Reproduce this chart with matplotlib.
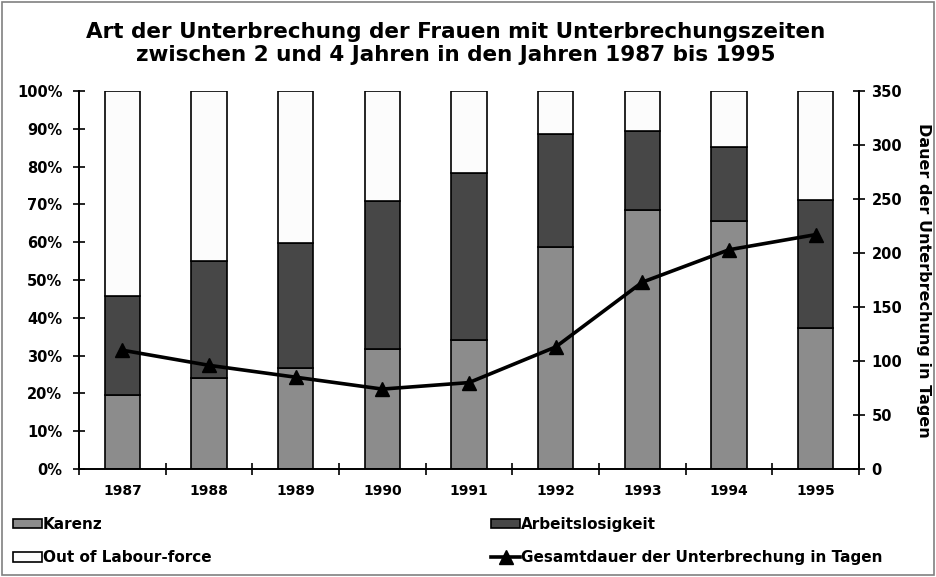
import numpy as np
import matplotlib.pyplot as plt
from matplotlib.patches import Rectangle
from matplotlib.lines import Line2D

plt.rcParams["font.family"] = ["DejaVu Sans"]
plt.rcParams["font.weight"] = "bold"

years = ["1987", "1988", "1989", "1990", "1991", "1992", "1993", "1994", "1995"]
karenz = [19.5, 24.2, 26.8, 31.7, 34.1, 58.8, 68.5, 65.7, 37.4]
arbeitslos_top = [45.8, 54.9, 59.9, 71.0, 78.4, 88.5, 89.4, 85.2, 71.1]
dauer = [110, 96, 85, 74, 80, 113, 173, 203, 217]

arbeitslos = [a - k for a, k in zip(arbeitslos_top, karenz)]
out_lf = [100 - a for a in arbeitslos_top]

fig = plt.figure(figsize=(9.36, 5.77), dpi=100)
ax = fig.add_axes([79 / 936, 1 - 469 / 577, 780 / 936, 378 / 577])
ax2 = ax.twinx()

x = np.arange(len(years))
w = 0.41
b1 = ax.bar(x, karenz, w, color="#8c8c8c", edgecolor="black", linewidth=1.2)
b2 = ax.bar(x, arbeitslos, w, bottom=karenz, color="#474747", edgecolor="black", linewidth=1.2)
b3 = ax.bar(x, out_lf, w, bottom=arbeitslos_top, color="#fcfcfc", edgecolor="black", linewidth=1.2)

ln, = ax2.plot(x, dauer, color="black", linewidth=2.6, marker="^", markersize=10)

ax.set_xlim(-0.5, len(years) - 0.5)
ax.set_ylim(0, 100)
ax2.set_ylim(0, 350)

ax.set_yticks(np.arange(0, 101, 10))
ax.set_yticklabels([f"{v}%" for v in range(0, 101, 10)])
ax2.set_yticks(np.arange(0, 351, 50))

ax.set_xticks(x)
ax.set_xticklabels(years)
ax.set_xticks(np.arange(-0.5, len(years), 1.0), minor=True)
ax.tick_params(axis="x", which="major", length=0, pad=11, labelsize=10)
ax.tick_params(axis="x", which="minor", direction="inout", length=8, width=1.2)
ax.tick_params(axis="y", direction="inout", length=8, width=1.2, labelsize=10.5, pad=8)
ax2.tick_params(axis="y", direction="inout", length=8, width=1.2, labelsize=10.5, pad=5)

for a in (ax, ax2):
    a.spines["top"].set_visible(False)
    for s in ("left", "right", "bottom"):
        a.spines[s].set_linewidth(1.2)

ax2.set_ylabel("Dauer der Unterbrechung in Tagen", rotation=270, labelpad=21,
               fontsize=11.5, fontweight="bold")

fig.text(0.487, 1 - 43.5 / 577, "Art der Unterbrechung der Frauen mit Unterbrechungszeiten\n"
         "zwischen 2 und 4 Jahren in den Jahren 1987 bis 1995",
         ha="center", va="center", fontsize=15.5, fontweight="bold", linespacing=1.15)

leg_kw = dict(frameon=False, fontsize=11, handlelength=1.9, handleheight=0.55,
              handletextpad=0.05, labelspacing=1.2, borderaxespad=0)
fig.legend([b1, b3], ["Karenz", "Out of Labour-force"], loc="upper left",
           bbox_to_anchor=(7 / 936, 1 - 511 / 577), **leg_kw)
line_handle = Line2D([], [], color="black", linewidth=2.6, marker="^", markersize=10)
fig.legend([b2, line_handle], ["Arbeitslosigkeit", "Gesamtdauer der Unterbrechung in Tagen"],
           loc="upper left", bbox_to_anchor=(485 / 936, 1 - 511 / 577), **leg_kw)

fig.patches.append(Rectangle((0.002, 0.003), 0.996, 0.994, transform=fig.transFigure,
                             fill=False, edgecolor="#808080", linewidth=1.2))

fig.savefig("out.png", dpi=100)
